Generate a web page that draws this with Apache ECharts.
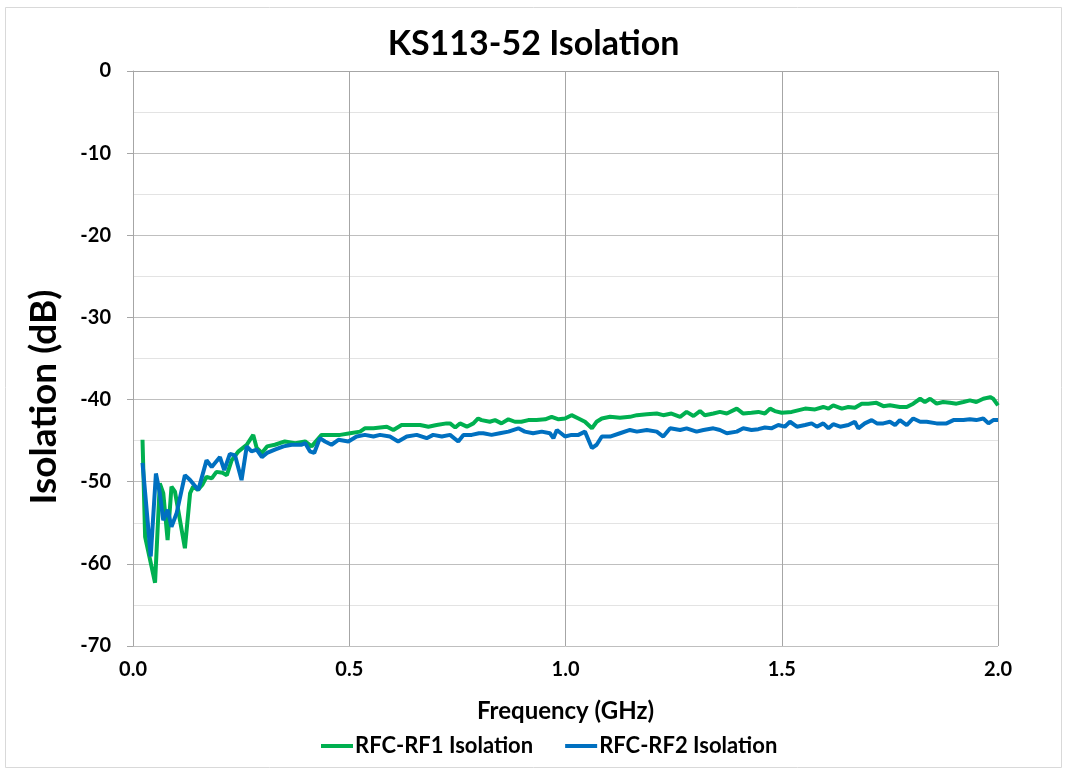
<!DOCTYPE html>
<html>
<head>
<meta charset="utf-8">
<script src="https://cdn.jsdelivr.net/npm/echarts@6/dist/echarts.min.js"></script>
<style>
  html, body { margin: 0; padding: 0; background: #fff; }
  #chart { width: 1067px; height: 774px; }
</style>
</head>
<body>
<div id="chart"></div>
<script>
// RFC-RF1 isolation (green)
var rf1Freq = [0.022, 0.028, 0.051, 0.062, 0.070, 0.080, 0.089, 0.097, 0.120, 0.132, 0.139, 0.150, 0.160, 0.170, 0.182, 0.193, 0.207, 0.217, 0.228, 0.244, 0.263, 0.278, 0.286, 0.298, 0.310, 0.328, 0.351, 0.375, 0.398, 0.413, 0.436, 0.467, 0.479, 0.502, 0.525, 0.536, 0.556, 0.587, 0.602, 0.621, 0.644, 0.664, 0.683, 0.702, 0.725, 0.733, 0.745, 0.756, 0.772, 0.787, 0.798, 0.806, 0.825, 0.837, 0.852, 0.868, 0.883, 0.898, 0.914, 0.933, 0.953, 0.968, 0.984, 0.999, 1.014, 1.030, 1.045, 1.061, 1.072, 1.084, 1.103, 1.126, 1.149, 1.165, 1.188, 1.211, 1.226, 1.245, 1.265, 1.280, 1.296, 1.311, 1.322, 1.342, 1.357, 1.373, 1.396, 1.411, 1.430, 1.446, 1.461, 1.473, 1.484, 1.500, 1.523, 1.554, 1.577, 1.596, 1.608, 1.619, 1.639, 1.654, 1.669, 1.685, 1.700, 1.719, 1.735, 1.750, 1.773, 1.789, 1.804, 1.820, 1.831, 1.843, 1.858, 1.873, 1.889, 1.904, 1.920, 1.935, 1.950, 1.966, 1.982, 1.989, 2.000];
var rf1Db = [-44.9, -56.7, -62.3, -50.2, -51.4, -57.1, -50.6, -51.2, -58.1, -51.4, -50.6, -51.0, -50.4, -49.4, -49.6, -48.8, -48.9, -49.2, -47.4, -46.3, -45.5, -44.3, -45.9, -46.5, -45.7, -45.5, -45.1, -45.3, -45.1, -45.7, -44.3, -44.3, -44.3, -44.1, -43.9, -43.5, -43.5, -43.3, -43.7, -43.1, -43.1, -43.1, -43.3, -43.1, -42.9, -42.9, -43.4, -42.9, -43.3, -42.9, -42.3, -42.5, -42.7, -42.5, -42.9, -42.4, -42.7, -42.7, -42.5, -42.5, -42.4, -42.1, -42.4, -42.3, -41.9, -42.3, -42.7, -43.5, -42.7, -42.3, -42.1, -42.2, -42.1, -41.9, -41.8, -41.7, -41.9, -41.7, -42.1, -41.5, -42.0, -41.4, -41.9, -41.7, -41.5, -41.7, -41.1, -41.7, -41.6, -41.5, -41.7, -41.1, -41.4, -41.6, -41.5, -41.1, -41.2, -40.9, -41.1, -40.7, -41.1, -40.9, -41.0, -40.5, -40.5, -40.4, -40.8, -40.7, -40.9, -40.9, -40.5, -39.9, -40.3, -39.9, -40.5, -40.3, -40.4, -40.5, -40.3, -40.1, -40.3, -39.9, -39.7, -39.9, -40.7];

// RFC-RF2 isolation (blue)
var rf2Freq = [0.022, 0.041, 0.053, 0.062, 0.070, 0.080, 0.089, 0.101, 0.120, 0.132, 0.151, 0.170, 0.182, 0.201, 0.211, 0.224, 0.236, 0.251, 0.263, 0.274, 0.286, 0.298, 0.310, 0.328, 0.348, 0.367, 0.390, 0.398, 0.409, 0.419, 0.432, 0.444, 0.459, 0.475, 0.498, 0.517, 0.536, 0.556, 0.571, 0.594, 0.613, 0.633, 0.656, 0.679, 0.694, 0.714, 0.733, 0.752, 0.764, 0.783, 0.800, 0.810, 0.829, 0.848, 0.868, 0.891, 0.906, 0.925, 0.945, 0.964, 0.972, 0.980, 0.999, 1.014, 1.030, 1.045, 1.061, 1.072, 1.084, 1.103, 1.126, 1.149, 1.165, 1.188, 1.211, 1.226, 1.242, 1.265, 1.280, 1.303, 1.319, 1.342, 1.357, 1.373, 1.396, 1.411, 1.430, 1.446, 1.461, 1.476, 1.492, 1.507, 1.519, 1.535, 1.554, 1.569, 1.581, 1.596, 1.608, 1.619, 1.635, 1.654, 1.669, 1.677, 1.692, 1.708, 1.720, 1.735, 1.750, 1.762, 1.773, 1.789, 1.804, 1.820, 1.835, 1.858, 1.881, 1.897, 1.920, 1.935, 1.950, 1.966, 1.978, 1.989, 2.000];
var rf2Db = [-47.7, -59.1, -49.0, -51.4, -54.7, -53.4, -55.5, -53.8, -49.2, -49.8, -51.0, -47.4, -48.2, -47.0, -48.6, -46.6, -46.8, -49.8, -45.7, -46.3, -46.1, -47.0, -46.5, -46.1, -45.7, -45.5, -45.5, -45.3, -46.3, -46.5, -44.7, -45.1, -45.5, -44.9, -45.1, -44.5, -44.3, -44.5, -44.3, -44.5, -45.1, -44.5, -44.3, -44.7, -44.3, -44.5, -44.3, -45.1, -44.3, -44.3, -44.1, -44.1, -44.3, -44.1, -43.9, -43.5, -43.9, -44.1, -43.9, -44.1, -44.7, -43.7, -44.5, -44.3, -44.3, -43.9, -45.9, -45.5, -44.5, -44.5, -44.1, -43.7, -43.9, -43.7, -43.9, -44.5, -43.5, -43.7, -43.5, -43.9, -43.7, -43.5, -43.7, -44.1, -43.9, -43.5, -43.7, -43.6, -43.4, -43.5, -43.1, -43.3, -42.7, -43.3, -43.1, -42.9, -43.3, -42.9, -43.5, -43.0, -43.3, -43.1, -42.7, -43.5, -42.9, -42.5, -42.9, -42.9, -42.7, -43.1, -42.5, -43.1, -42.3, -42.7, -42.7, -42.9, -42.9, -42.5, -42.5, -42.4, -42.5, -42.3, -42.9, -42.5, -42.5];

var seriesNames = ['RFC-RF1 Isolation', 'RFC-RF2 Isolation'];
var seriesColors = ['#00b050', '#0070c0'];

function pairs(xs, ys) {
  return xs.map(function (x, i) { return [x, ys[i]]; });
}

var font = 'Lato, "Open Sans", sans-serif';
var chart = echarts.init(document.getElementById('chart'));
chart.setOption({
  animation: false,
  backgroundColor: '#fff',
  graphic: [
    {
      type: 'rect',
      shape: { x: 5.5, y: 7.5, width: 1056, height: 760 },
      style: { fill: 'none', stroke: '#d9d9d9', lineWidth: 1 },
      silent: true
    },
    {
      // y axis title sits a bit below the plot's middle in the original
      type: 'text',
      x: 44,
      y: 397,
      rotation: Math.PI / 2,
      style: {
        text: 'Isolation (dB)',
        fontFamily: font, fontSize: 37, fontWeight: 'bold', fill: '#000',
        textAlign: 'center', textVerticalAlign: 'middle'
      },
      silent: true
    }
  ],
  title: {
    text: 'KS113-52 Isolation',
    left: 'center',
    top: 22,
    textStyle: { fontFamily: font, fontSize: 34, fontWeight: 'bold', color: '#000' }
  },
  grid: { left: 133, right: 69, top: 71, bottom: 128 },
  legend: {
    data: seriesNames,
    bottom: 12,
    left: 316,
    icon: 'rect',
    itemWidth: 32,
    itemHeight: 4,
    itemGap: 32,
    textStyle: { fontFamily: font, fontSize: 22, fontWeight: 'bold', color: '#000', padding: [0, 0, 0, -3] }
  },
  xAxis: {
    type: 'value',
    min: 0,
    max: 2,
    interval: 0.5,
    name: 'Frequency (GHz)',
    nameLocation: 'middle',
    nameGap: 53,
    nameTextStyle: { fontFamily: font, fontSize: 24, fontWeight: 'bold', color: '#000' },
    axisLine: { show: true, lineStyle: { color: '#a6a6a6', width: 1 } },
    axisTick: { show: true, inside: false, length: 6, lineStyle: { color: '#a6a6a6' } },
    axisLabel: {
      margin: 14,
      fontFamily: font, fontSize: 20, fontWeight: 'bold', color: '#000',
      formatter: function (v) { return v.toFixed(1); }
    },
    splitLine: { show: true, lineStyle: { color: '#a6a6a6', width: 1 } }
  },
  yAxis: {
    type: 'value',
    min: -70,
    max: 0,
    interval: 10,
    axisLine: { show: true, lineStyle: { color: '#a6a6a6', width: 1 } },
    axisTick: { show: true, inside: false, length: 6, lineStyle: { color: '#a6a6a6' } },
    axisLabel: { margin: 22, fontFamily: font, fontSize: 20, fontWeight: 'bold', color: '#000' },
    splitLine: { show: true, lineStyle: { color: '#bfbfbf', width: 1 } },
    minorTick: { show: false, splitNumber: 2 },
    minorSplitLine: { show: true, lineStyle: { color: '#e3e3e3', width: 1 } }
  },
  series: [
    {
      name: seriesNames[0],
      type: 'line',
      data: pairs(rf1Freq, rf1Db),
      showSymbol: false,
      color: seriesColors[0],
      lineStyle: { width: 4, color: seriesColors[0] }
    },
    {
      name: seriesNames[1],
      type: 'line',
      data: pairs(rf2Freq, rf2Db),
      showSymbol: false,
      color: seriesColors[1],
      lineStyle: { width: 4, color: seriesColors[1] }
    }
  ]
});
</script>
</body>
</html>
